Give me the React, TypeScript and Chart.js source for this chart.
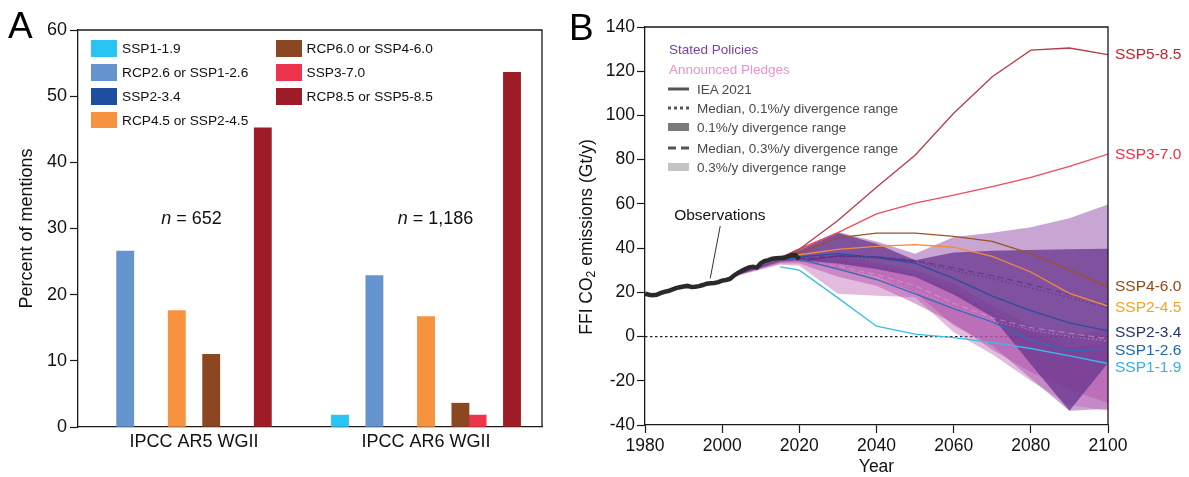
import React, { useEffect, useRef } from "react";
import { Chart, registerables } from "chart.js";

Chart.register(...registerables);

const FONT = "'Liberation Sans', Arial, Helvetica, sans-serif";
const INK = "#1a1a1a";

// ---------------- Panel A data ----------------
const reportLabels = ["IPCC AR5 WGII", "IPCC AR6 WGII"];
const sampleSizes = ["652", "1,186"];
const scenarioLabelsA = [
  "SSP1-1.9",
  "RCP2.6 or SSP1-2.6",
  "SSP2-3.4",
  "RCP4.5 or SSP2-4.5",
  "RCP6.0 or SSP4-6.0",
  "SSP3-7.0",
  "RCP8.5 or SSP5-8.5",
];
const scenarioColorsA = ["#29c4f1", "#6594cf", "#1d4e9f", "#f7923e", "#8c4621", "#ee334d", "#9e1c26"];
const ar5Mentions = [0, 26.6, 0, 17.6, 11.0, 0, 45.2];
const ar6Mentions = [1.8, 22.9, 0, 16.7, 3.6, 1.8, 53.6];
const percentTicks = [0, 10, 20, 30, 40, 50, 60];

// layout only: slot of each bar inside its report group (in bar widths)
const slotOffsets = [
  [null, -4, null, -1, 1, null, 4],
  [-5, -3, null, 0, 2, 3, 5],
];
const SLOT = 17.2 / 232;

// ---------------- Panel B data ----------------
const obsYears = [1980, 1981, 1982, 1983, 1984, 1985, 1986, 1987, 1988, 1989, 1990, 1991, 1992, 1993, 1994, 1995, 1996, 1997, 1998, 1999, 2000, 2001, 2002, 2003, 2004, 2005, 2006, 2007, 2008, 2009, 2010, 2011, 2012, 2013, 2014, 2015, 2016, 2017, 2018, 2019, 2020];
const obsValues = [19.4, 18.9, 18.7, 18.9, 19.6, 20.2, 20.6, 21.2, 21.9, 22.3, 22.6, 22.9, 22.4, 22.5, 22.8, 23.3, 23.9, 24.1, 24.2, 24.6, 25.3, 25.6, 26.1, 27.5, 28.7, 29.6, 30.5, 31.3, 31.6, 31.2, 33.1, 34.1, 34.6, 35.2, 35.4, 35.5, 35.6, 36.1, 36.8, 36.9, 34.9];

const sspYears = [2015, 2020, 2030, 2040, 2050, 2060, 2070, 2080, 2090, 2100];
const ssp585 = [35.5, 39.5, 52.5, 67.5, 82, 101, 117.5, 129.5, 130.5, 127.5];
const ssp370 = [35.5, 39.5, 47, 55.5, 60.3, 64, 67.8, 72, 77, 82.5];
const ssp460 = [35.5, 38, 44.6, 46.8, 46.8, 45.3, 43, 37.5, 30.2, 22.5];
const ssp245 = [35.5, 37, 39.4, 40.8, 41.6, 40.4, 36.3, 29.2, 19.5, 13.8];
const ssp234 = [35.5, 36, 37.5, 35.7, 33.2, 26.3, 18.3, 11.7, 6.2, 2.6];
const ssp126 = [35.5, 35, 30.5, 25.8, 19.3, 12.6, 6.6, -1.6, -6.5, -5.8];
const ssp119 = [31.5, 30, 17.5, 4.7, 1.1, -0.5, -2.7, -5.4, -8.7, -12.2];
const sspNames = ["SSP5-8.5", "SSP3-7.0", "SSP4-6.0", "SSP2-4.5", "SSP2-3.4", "SSP1-2.6", "SSP1-1.9"];
const sspLineColors = ["#b83a4b", "#ee4a5f", "#985327", "#f28c3a", "#2c4f9b", "#2f6db8", "#35bdea"];
const sspLabelColors = ["#c3242e", "#ec2f45", "#8b4a1e", "#f6a31f", "#22376b", "#1e64b0", "#2fb1ea"];
const sspLabelValues = [127.5, 82.3, 22.6, 13.1, 1.8, -6.3, -14];

const bandYears = [2003, 2015, 2020, 2030, 2040, 2050, 2060, 2070, 2080, 2090, 2100];
const statedUpper03 = [28.2, 36, 40, 47.3, 43, 37.5, 45, 47, 49.4, 53.5, 59.7];
const statedLower03 = [27, 33.5, 34, 31, 27, 20, 5, -4, -19, -33.6, -32.6];
const statedUpper01 = [28.2, 35.5, 39, 47, 42, 34.5, 38, 38.8, 39.2, 39.5, 39.7];
const statedLower01 = [27.3, 34, 34.5, 33, 30.5, 27, 19, 9, -12.5, -33.6, -12];
const pledgeUpper03 = [28, 35, 37, 37, 33.5, 30, 24, 14, 5, 0, 4];
const pledgeLower03 = [27, 32.5, 32, 19.4, 18.5, 17.8, 2, -8, -20, -31, -33.5];
const pledgeUpper01 = [28, 34.5, 36, 35, 32, 28, 21, 11, 2, -5, -3];
const pledgeLower01 = [27.3, 33, 33, 27, 23, 15, 6, -6, -16, -24, -30];

const medianYears = [2020, 2030, 2040, 2050, 2060, 2070, 2080, 2090, 2100];
const statedMedian01 = [35, 36, 35.5, 34, 30, 26.2, 22, 17.6, 13];
const statedMedian03 = [35, 36.5, 36, 34.5, 31, 27.5, 23.5, 19, 14.5];
const pledgeMedian01 = [33.5, 31, 27, 21, 13, 7, 3, 0, -2];
const pledgeMedian03 = [34, 32, 28, 23, 15, 8.5, 4, 1.5, -1];

const ieaYears = [2020, 2030, 2040, 2050];
const ieaStated = [34, 36.5, 36, 34];
const ieaPledges = [34, 31, 26, 21];

const yearTicks = [1980, 2000, 2020, 2040, 2060, 2080, 2100];
const emissionTicks = [-40, -20, 0, 20, 40, 60, 80, 100, 120, 140];

const pts = (xs: number[], ys: number[]) => xs.map((x, i) => ({ x, y: ys[i] }));

// ---------------- Panel A ----------------
function PanelA() {
  const ref = useRef<HTMLCanvasElement>(null);
  useEffect(() => {
    const groupValues = [ar5Mentions, ar6Mentions];
    const datasets = scenarioLabelsA.map((label, s) => ({
      type: "bar" as const,
      label,
      data: groupValues
        .map((vals, g) => (vals[s] > 0 && slotOffsets[g][s] !== null ? { x: g + (slotOffsets[g][s] as number) * SLOT, y: vals[s] } : null))
        .filter((p) => p !== null),
      backgroundColor: scenarioColorsA[s],
      borderWidth: 0,
      barThickness: 17.2,
      grouped: false,
    }));
    const frame = {
      id: "frameA",
      afterDraw(chart: any) {
        const { ctx, chartArea: a } = chart;
        ctx.save();
        ctx.strokeStyle = INK;
        ctx.lineWidth = 1.3;
        ctx.beginPath();
        ctx.moveTo(a.left, a.top);
        ctx.lineTo(a.right, a.top);
        ctx.lineTo(a.right, a.bottom);
        ctx.stroke();
        ctx.restore();
      },
    };
    const chart = new Chart(ref.current as HTMLCanvasElement, {
      type: "bar",
      data: { datasets: datasets as any },
      options: {
        responsive: false,
        animation: false,
        layout: { padding: { top: 30, right: 18, bottom: 0, left: 0 } },
        plugins: { legend: { display: false }, tooltip: { enabled: false } },
        scales: {
          x: {
            type: "linear",
            min: -0.5,
            max: 1.5,
            offset: false,
            grid: { display: false, drawTicks: false },
            border: { display: true, color: INK, width: 1.3 },
            ticks: {
              autoSkip: false,
              maxRotation: 0,
              padding: 4,
              color: "#111",
              font: { family: FONT, size: 18 },
              callback: (v: any) => reportLabels[v as number] ?? "",
            },
            afterBuildTicks: (s: any) => {
              s.ticks = reportLabels.map((_, i) => ({ value: i }));
            },
            afterFit: (s: any) => {
              s.height = 50;
            },
          },
          y: {
            min: percentTicks[0],
            max: percentTicks[percentTicks.length - 1],
            grid: { display: true, drawOnChartArea: false, drawTicks: true, tickLength: 8, tickColor: INK, tickWidth: 1.2 },
            border: { display: true, color: INK, width: 1.3 },
            ticks: {
              stepSize: 10,
              padding: 3,
              color: "#111",
              font: { family: FONT, size: 18 },
              callback: (v: any) => String(v),
            },
            afterBuildTicks: (s: any) => {
              s.ticks = percentTicks.map((v) => ({ value: v }));
            },
            title: {
              display: true,
              text: "Percent of mentions",
              color: "#111",
              font: { family: FONT, size: 18 },
              padding: { top: 16.5, bottom: 0 },
            },
            afterFit: (s: any) => {
              s.width = 78;
            },
          },
        },
      } as any,
      plugins: [frame],
    });
    return () => chart.destroy();
  }, []);

  const legendRows = [48.3, 72.7, 96.7, 120];
  const legendCols = [91, 275.5];
  return (
    <>
      <canvas ref={ref} width={560} height={477} style={{ position: "absolute", left: 0, top: 0 }} />
      {scenarioLabelsA.map((label, i) => {
        const col = i < 4 ? 0 : 1;
        const row = i < 4 ? i : i - 4;
        return (
          <div
            key={label}
            style={{
              position: "absolute",
              left: legendCols[col],
              top: legendRows[row] - 9,
              height: 18,
              display: "flex",
              alignItems: "center",
              whiteSpace: "nowrap",
              fontFamily: FONT,
              fontSize: 13.7,
              color: "#111",
            }}
          >
            <span style={{ display: "inline-block", width: 26, height: 16.5, background: scenarioColorsA[i], marginRight: 5 }} />
            {label}
          </div>
        );
      })}
      {sampleSizes.map((n, i) => (
        <div
          key={n}
          style={{
            position: "absolute",
            left: [191.5, 435.6][i],
            top: 218.3,
            transform: "translate(-50%,-50%)",
            whiteSpace: "nowrap",
            fontFamily: FONT,
            fontSize: 18,
            color: "#111",
          }}
        >
          <i>n</i> = {n}
        </div>
      ))}
      <div style={{ position: "absolute", left: 8, top: 7, fontFamily: FONT, fontSize: 37, lineHeight: "37px", color: "#000" }}>A</div>
    </>
  );
}

// ---------------- Panel B ----------------
function PanelB() {
  const ref = useRef<HTMLCanvasElement>(null);
  useEffect(() => {
    const band = (lower: number[], upper: number[], color: string, order: number, label: string) => [
      { label: label + " lower", data: pts(bandYears, lower), borderWidth: 0, pointRadius: 0, fill: false, order, borderColor: "transparent" },
      { label: label + " upper", data: pts(bandYears, upper), borderWidth: 0, pointRadius: 0, fill: "-1", backgroundColor: color, order, borderColor: "transparent" },
    ];
    const line = (xs: number[], ys: number[], color: string, width: number, order: number, dash: number[] = []) => ({
      data: pts(xs, ys),
      borderColor: color,
      borderWidth: width,
      borderDash: dash,
      pointRadius: 0,
      fill: false,
      order,
      tension: 0,
    });
    const sspSeries = [ssp585, ssp370, ssp460, ssp245, ssp234, ssp126, ssp119];
    const datasets: any[] = [
      line([1980, 2100], [0, 0], "#222", 1.2, 100, [2.5, 2.5]),
      ...band(statedLower03, statedUpper03, "rgba(145,75,165,0.5)", 60, "SP 0.3"),
      ...band(pledgeLower03, pledgeUpper03, "rgba(190,105,185,0.45)", 58, "AP 0.3"),
      ...band(pledgeLower01, pledgeUpper01, "rgba(180,85,170,0.5)", 56, "AP 0.1"),
      ...band(statedLower01, statedUpper01, "rgba(100,50,140,0.72)", 54, "SP 0.1"),
      line(medianYears, pledgeMedian01, "rgba(225,160,210,0.55)", 1.2, 40, [1.5, 2.5]),
      line(medianYears, pledgeMedian03, "rgba(225,160,210,0.55)", 1.2, 40, [6, 4]),
      line(medianYears, statedMedian01, "rgba(80,40,120,0.6)", 1.2, 40, [1.5, 2.5]),
      line(medianYears, statedMedian03, "rgba(80,40,120,0.6)", 1.2, 40, [6, 4]),
      line(ieaYears, ieaPledges, "rgba(200,100,170,0.7)", 1.4, 35),
      line(ieaYears, ieaStated, "rgba(95,45,140,0.8)", 1.4, 35),
      ...sspSeries.map((ys, i) => line(sspYears, ys, sspLineColors[i], 1.3, 20)),
      line(obsYears, obsValues, "#2a2a2a", 4.5, 10),
    ];
    const decor = {
      id: "decorB",
      afterDraw(chart: any) {
        const { ctx, chartArea: a, scales } = chart;
        const x = scales.x;
        const y = scales.y;
        ctx.save();
        ctx.strokeStyle = INK;
        ctx.lineWidth = 1.3;
        ctx.beginPath();
        ctx.moveTo(a.left, a.top);
        ctx.lineTo(a.right, a.top);
        ctx.lineTo(a.right, a.bottom);
        ctx.stroke();
        // observations note
        ctx.strokeStyle = "#333";
        ctx.lineWidth = 1;
        ctx.beginPath();
        ctx.moveTo(x.getPixelForValue(1999.5), y.getPixelForValue(50));
        ctx.lineTo(x.getPixelForValue(1996.9), y.getPixelForValue(26.3));
        ctx.stroke();
        ctx.fillStyle = "#111";
        ctx.font = `15.5px ${FONT}`;
        ctx.textAlign = "center";
        ctx.textBaseline = "middle";
        ctx.fillText("Observations", x.getPixelForValue(1999.4), y.getPixelForValue(54.5));
        // scenario labels
        ctx.textAlign = "left";
        sspNames.forEach((n, i) => {
          ctx.fillStyle = sspLabelColors[i];
          ctx.fillText(n, a.right + 7, y.getPixelForValue(sspLabelValues[i]));
        });
        ctx.restore();
      },
    };
    const chart = new Chart(ref.current as HTMLCanvasElement, {
      type: "line",
      data: { datasets },
      options: {
        responsive: false,
        animation: false,
        layout: { padding: { top: 27, right: 81, bottom: 0, left: 0 } },
        plugins: { legend: { display: false }, tooltip: { enabled: false }, filler: { propagate: false } },
        scales: {
          x: {
            type: "linear",
            min: 1980,
            max: 2100,
            grid: { display: true, drawOnChartArea: false, drawTicks: true, tickLength: 8, tickColor: INK, tickWidth: 1.2 },
            border: { display: true, color: INK, width: 1.3 },
            ticks: { stepSize: 20, padding: 3, color: "#111", font: { family: FONT, size: 17.5 }, maxRotation: 0, callback: (v: any) => String(v) },
            afterBuildTicks: (s: any) => {
              s.ticks = yearTicks.map((v) => ({ value: v }));
            },
            title: { display: true, text: "Year", color: "#111", font: { family: FONT, size: 17.5 }, padding: { top: 0, bottom: -1 } },
            afterFit: (s: any) => {
              s.height = 52;
            },
          },
          y: {
            min: -40,
            max: 140,
            grid: { display: true, drawOnChartArea: false, drawTicks: true, tickLength: 8, tickColor: INK, tickWidth: 1.2 },
            border: { display: true, color: INK, width: 1.3 },
            ticks: { stepSize: 20, padding: 2, color: "#111", font: { family: FONT, size: 17.5 }, callback: (v: any) => String(v) },
            afterBuildTicks: (s: any) => {
              s.ticks = emissionTicks.map((v) => ({ value: v }));
            },
            afterFit: (s: any) => {
              s.width = 85;
            },
          },
        },
      } as any,
      plugins: [decor],
    });
    return () => chart.destroy();
  }, []);

  const txt = (extra: any) => ({ position: "absolute" as const, whiteSpace: "nowrap" as const, fontFamily: FONT, fontSize: 13.5, ...extra });
  const rows = [89.3, 108.3, 127.3, 148.3, 167.3];
  const rowText = ["IEA 2021", "Median, 0.1%/y divergence range", "0.1%/y divergence range", "Median, 0.3%/y divergence range", "0.3%/y divergence range"];
  const symbols = [
    <div style={{ width: 21, height: 3, background: "#555" }} />,
    <div style={{ width: 21, height: 3, background: "repeating-linear-gradient(90deg,#555 0 3px,transparent 3px 6px)" }} />,
    <div style={{ width: 21, height: 8, background: "#7a7a7a" }} />,
    <div style={{ width: 21, height: 3, background: "repeating-linear-gradient(90deg,#555 0 8px,transparent 8px 13px)" }} />,
    <div style={{ width: 21, height: 8, background: "#c4c4c4" }} />,
  ];
  return (
    <>
      <canvas ref={ref} width={629} height={477} style={{ position: "absolute", left: 560, top: 0 }} />
      <div style={txt({ left: 669, top: 49.3, transform: "translateY(-50%)", color: "#7b3fa8" })}>Stated Policies</div>
      <div style={txt({ left: 669, top: 69.3, transform: "translateY(-50%)", color: "#e993cc" })}>Announced Pledges</div>
      {rowText.map((t, i) => (
        <React.Fragment key={t}>
          <div style={{ position: "absolute", left: 668, top: rows[i], transform: "translateY(-50%)" }}>{symbols[i]}</div>
          <div style={txt({ left: 697, top: rows[i], transform: "translateY(-50%)", color: "#4a4a4a" })}>{t}</div>
        </React.Fragment>
      ))}
      <div
        style={{
          position: "absolute",
          left: 587,
          top: 237,
          transform: "translate(-50%,-50%) rotate(-90deg)",
          whiteSpace: "nowrap",
          fontFamily: FONT,
          fontSize: 17.5,
          color: "#111",
        }}
      >
        FFI CO<sub style={{ fontSize: "70%", verticalAlign: "-0.25em" }}>2</sub> emissions (Gt/y)
      </div>
      <div style={{ position: "absolute", left: 569, top: 8.7, fontFamily: FONT, fontSize: 37, lineHeight: "37px", color: "#000" }}>B</div>
    </>
  );
}

export default function App() {
  return (
    <div style={{ position: "fixed", left: 0, top: 0, width: 1189, height: 477, background: "#fff", overflow: "hidden" }}>
      <PanelA />
      <PanelB />
    </div>
  );
}
